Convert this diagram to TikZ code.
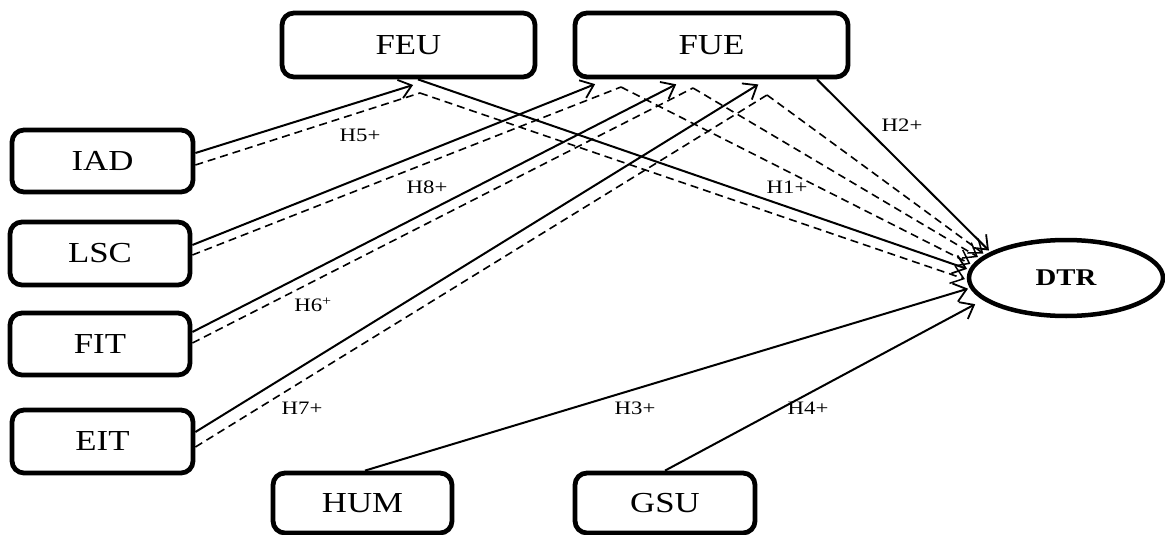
\documentclass[tikz,border=0pt]{standalone}
\usepackage{fontspec}
\setmainfont{Liberation Serif}[FakeStretch=1.2]
\usetikzlibrary{arrows.meta,shapes.geometric}
\begin{document}
\begin{tikzpicture}[x=1pt,y=-1pt,
  varbox/.style={draw=black,line width=4.8pt,rounded corners=12pt,fill=white,
    font=\fontsize{29}{33}\selectfont,inner sep=0pt},
  outbox/.style={draw=black,ellipse,line width=4.5pt,fill=white,
    font=\fontsize{24}{28}\selectfont\bfseries,inner sep=0pt},
  pathline/.style={line width=2pt,-{Straight Barb[length=12pt,width=19pt,line width=1.8pt]},shorten >=2pt},
  medline/.style={line width=1.6pt,dash pattern=on 8pt off 5pt},
  medarrow/.style={medline,-{Straight Barb[length=12pt,width=18pt,line width=1.5pt]},shorten >=2pt},
  hlab/.style={font=\fontsize{19}{22}\selectfont,inner sep=0pt}]
\useasboundingbox (0,0) rectangle (1165,535);

% nodes
\node[varbox,minimum width=253pt,minimum height=64pt] (FEU) at (408.5,45) {FEU};
\node[varbox,minimum width=273pt,minimum height=64pt] (FUE) at (711.5,45) {FUE};
\node[varbox,minimum width=181pt,minimum height=62pt] (IAD) at (102.5,161) {IAD};
\node[varbox,minimum width=180pt,minimum height=63pt] (LSC) at (100,253.5) {LSC};
\node[varbox,minimum width=180pt,minimum height=62pt] (FIT) at (100,344) {FIT};
\node[varbox,minimum width=181pt,minimum height=63pt] (EIT) at (102.5,441.5) {EIT};
\node[varbox,minimum width=179pt,minimum height=60pt] (HUM) at (362.5,503) {HUM};
\node[varbox,minimum width=180pt,minimum height=60pt] (GSU) at (665,503) {GSU};
\node[outbox,minimum width=194pt,minimum height=76pt] (DTR) at (1066,278) {DTR};

% mediation vertices
\coordinate (vIAD) at (420,93);
\coordinate (vLSC) at (621,87);
\coordinate (vFIT) at (693,88);
\coordinate (vEIT) at (767,95);

% dashed mediation paths
\draw[medline] ([yshift=-4pt]IAD.east) -- (vIAD);
\draw[medarrow] (vIAD) -- (DTR.181);
\draw[medline] ([yshift=-1.5pt]LSC.east) -- (vLSC);
\draw[medarrow] (vLSC) -- (DTR.172);
\draw[medline] ([yshift=1pt]FIT.east) -- (vFIT);
\draw[medarrow] (vFIT) -- (DTR.167);
\draw[medline] ([yshift=-5.5pt]EIT.east) -- (vEIT);
\draw[medarrow] (vEIT) -- (DTR.164);

% solid paths to mediators
\draw[pathline] ([yshift=8pt]IAD.east) -- ([xshift=6.5pt,yshift=-5pt]FEU.south);
\draw[pathline] ([yshift=8.5pt]LSC.east) -- ([xshift=-114.5pt,yshift=-4pt]FUE.south);
\draw[pathline] ([yshift=12pt]FIT.east) -- ([xshift=-33.5pt,yshift=-4pt]FUE.south);
\draw[pathline] ([yshift=9.5pt]EIT.east) -- ([xshift=48.5pt,yshift=-4pt]FUE.south);

% direct paths to DTR
\draw[pathline] ([xshift=9.5pt]FEU.south) -- (DTR.175);
\draw[pathline] ([xshift=105.5pt]FUE.south) -- (DTR.161);
\draw[pathline] ([xshift=2.5pt]HUM.north) -- (DTR.186);
\draw[pathline] (GSU.north) -- ([xshift=-8pt,yshift=-2pt]DTR.196);

% labels
\node[hlab] (lH5) at (360,135) {H5+};
\node[hlab] (lH8) at (427,187) {H8+};
\node[hlab] (lH6) at (313,305) {H6\textsuperscript{+}};
\node[hlab] (lH7) at (302,408) {H7+};
\node[hlab] (lH3) at (635,408) {H3+};
\node[hlab] (lH4) at (808,408) {H4+};
\node[hlab] (lH2) at (902,125) {H2+};
\node[hlab] (lH1) at (787,187) {H1+};
\end{tikzpicture}
\end{document}
